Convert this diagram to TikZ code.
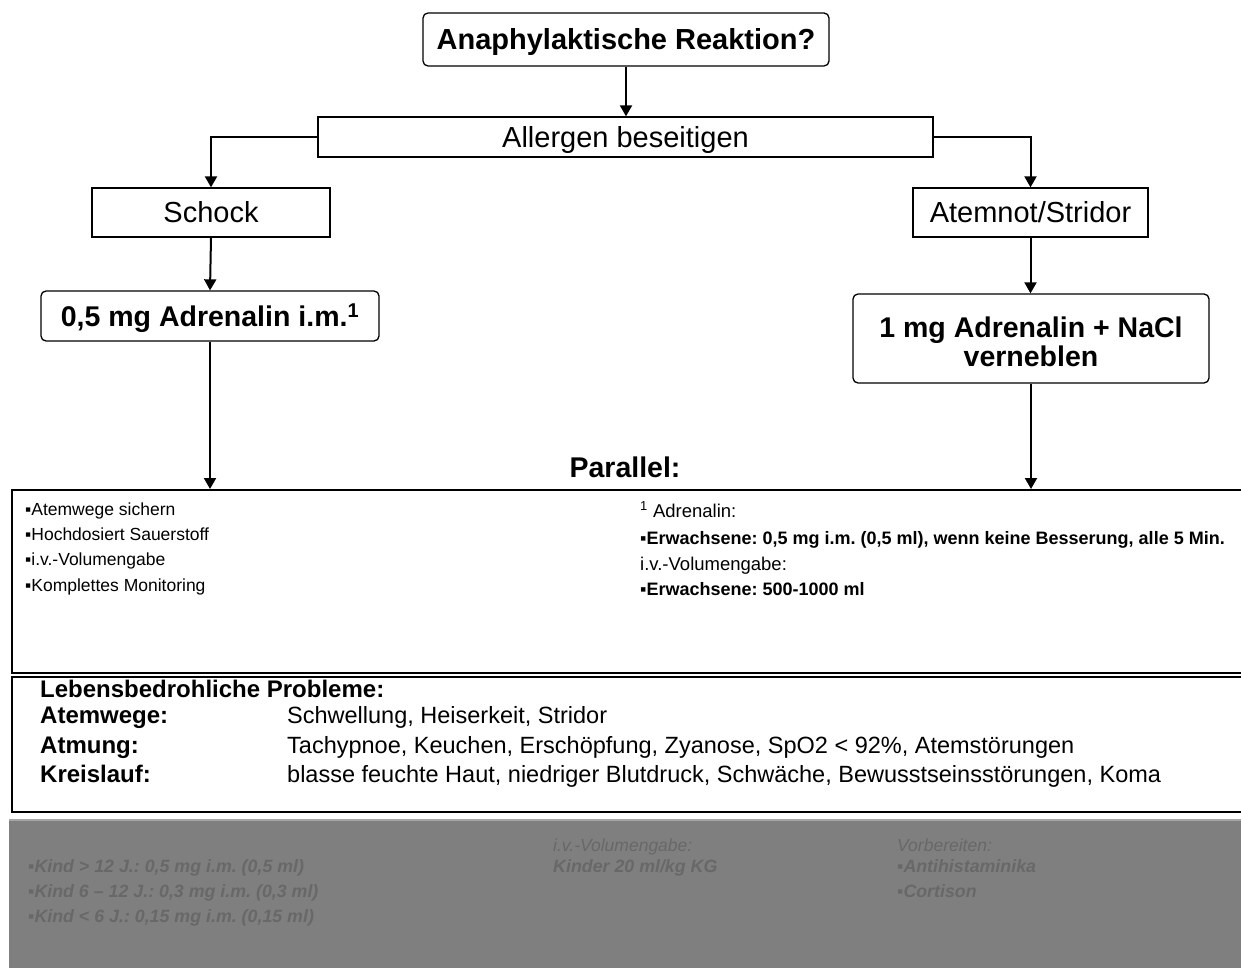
\documentclass[tikz,border=0pt]{standalone}
\usepackage{fontspec}
\setmainfont{Liberation Sans}
\usetikzlibrary{arrows.meta}
\frenchspacing

\definecolor{panelgray}{HTML}{7F7F7F}
\definecolor{paneltext}{HTML}{686868}
\definecolor{paneledge}{HTML}{A6A6A6}

\newcommand{\setfs}[2]{\fontsize{#1}{#2}\selectfont}

\begin{document}
\begin{tikzpicture}[x=1pt,y=-1pt,
  flow/.style={draw, line width=1.3pt, inner sep=0pt, align=center, text depth=0pt},
  plainbox/.style={flow, font=\setfs{29}{31}, text height=20.8pt},
  roundbox/.style={flow, rounded corners=5pt, font=\bfseries\setfs{28.5}{31}, text height=20.4pt},
  boxline/.style={anchor=base, inner sep=0pt, font=\bfseries\setfs{28.5}{31}},
  arr/.style={line width=2pt, -{Triangle[width=12pt,length=11pt]}},
  panel/.style={draw, line width=2pt, inner sep=0pt, anchor=north west},
  txt/.style={anchor=base west, inner sep=0pt, font=\setfs{17.5}{20}},
  rtxt/.style={anchor=base west, inner sep=0pt, font=\setfs{18.5}{20}},
  rtxtb/.style={anchor=base west, inner sep=0pt, font=\bfseries\setfs{18}{20}},
  lbl/.style={anchor=base west, inner sep=0pt, font=\bfseries\setfs{24}{26}},
  val/.style={anchor=base west, inner sep=0pt, font=\setfs{23.5}{26}},
  gtxt/.style={anchor=base west, inner sep=0pt, text=paneltext, font=\itshape\setfs{17.5}{20}},
  gtxtb/.style={gtxt, font=\bfseries\itshape\setfs{17.8}{20}}
]
\useasboundingbox (0,0) rectangle (1241,968);

% decision flow
\node[roundbox, font=\bfseries\setfs{29}{31}, text height=20.8pt, minimum width=406, minimum height=53] (q) at (626,39.5) {Anaphylaktische Reaktion?};
\node[plainbox, minimum width=615, minimum height=40] (allergen) at (625.5,137) {Allergen beseitigen};
\node[plainbox, minimum width=238, minimum height=49] (schock) at (211,212.5) {Schock};
\node[plainbox, minimum width=235, minimum height=49] (atem) at (1030.5,212.5) {Atemnot/Stridor};
\node[roundbox, minimum width=338, minimum height=50] (adrL) at (210,316) {0,5 mg Adrenalin i.m.\textsuperscript{1}};
\node[roundbox, minimum width=356, minimum height=89] (adrR) at (1031,338.5) {};
\node[boxline] (adrR1) at (1031,337) {1 mg Adrenalin + NaCl};
\node[boxline] (adrR2) at (1031,366.5) {verneblen};

% panels
\node[panel, minimum width=1240, minimum height=183] (box1) at (11,489) {};
\node[panel, minimum width=1240, minimum height=135] (box2) at (11,676) {};
\node[anchor=north west, fill=panelgray, inner sep=0pt, minimum width=1232, minimum height=148] (prep) at (9,820) {};
\draw[paneledge, line width=1.5pt] (prep.north west) -- (prep.north east);

% connectors
\draw[arr] (q.south) -- (q.south |- allergen.north);
\draw[arr] (allergen.west) -| (schock.north);
\draw[arr] (allergen.east) -| (atem.north);
\draw[arr] (schock.south) -- (adrL.north);
\draw[arr] (atem.south) -- (atem.south |- adrR.north);
\draw[arr] (adrL.south) -- (adrL.south |- box1.north);
\draw[arr] (adrR.south) -- (adrR.south |- box1.north);

\node[anchor=base, inner sep=0pt, font=\bfseries\setfs{28.5}{30}] (par) at (625,477) {Parallel:};

% measures
\node[txt] (m1) at (25,515) {▪Atemwege sichern};
\node[txt] (m2) at (25,540.5) {▪Hochdosiert Sauerstoff};
\node[txt] (m3) at (25,565.5) {▪i.v.-Volumengabe};
\node[txt] (m4) at (25,591) {▪Komplettes Monitoring};

\node[rtxt] (d1) at (640,517) {\textsuperscript{1} Adrenalin:};
\node[rtxtb] (d2) at (640,544) {▪Erwachsene: 0,5 mg i.m. (0,5 ml), wenn keine Besserung, alle 5 Min.};
\node[rtxt] (d3) at (640,570) {i.v.-Volumengabe:};
\node[rtxtb] (d4) at (640,595) {▪Erwachsene: 500-1000 ml};

% threats
\node[lbl] (p0) at (40,697) {Lebensbedrohliche Probleme:};
\node[lbl] (p1) at (40,723) {Atemwege:};
\node[val] (v1) at (287,723) {Schwellung, Heiserkeit, Stridor};
\node[lbl] (p2) at (40,753) {Atmung:};
\node[val] (v2) at (287,753) {Tachypnoe, Keuchen, Erschöpfung, Zyanose, SpO2 < 92\%, Atemstörungen};
\node[lbl] (p3) at (40,782) {Kreislauf:};
\node[val] (v3) at (287,782) {blasse feuchte Haut, niedriger Blutdruck, Schwäche, Bewusstseinsstörungen, Koma};

% children and preparation
\node[gtxtb] (k1) at (28,872) {▪Kind > 12 J.: 0,5 mg i.m. (0,5 ml)};
\node[gtxtb] (k2) at (28,897) {▪Kind 6 – 12 J.: 0,3 mg i.m. (0,3 ml)};
\node[gtxtb] (k3) at (28,922) {▪Kind < 6 J.: 0,15 mg i.m. (0,15 ml)};
\node[gtxt] (g1) at (553,851) {i.v.-Volumengabe:};
\node[gtxtb] (g2) at (553,872) {Kinder 20 ml/kg KG};
\node[gtxt] (r1) at (897,851) {Vorbereiten:};
\node[gtxtb] (r2) at (897,872) {▪Antihistaminika};
\node[gtxtb] (r3) at (897,897) {▪Cortison};
\end{tikzpicture}
\end{document}
